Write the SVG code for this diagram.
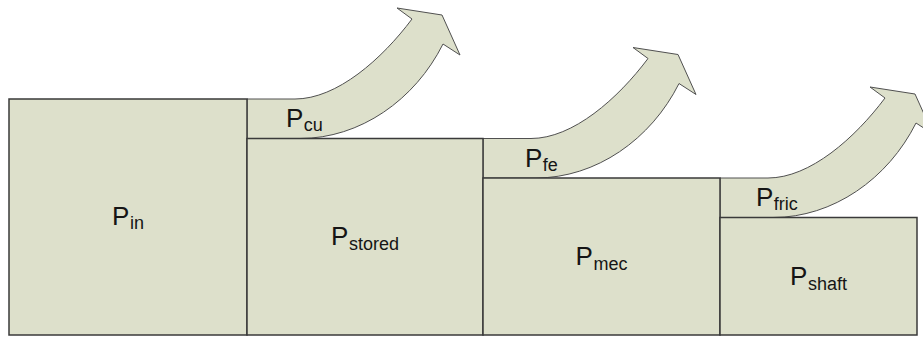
<svg xmlns="http://www.w3.org/2000/svg" xmlns:xlink="http://www.w3.org/1999/xlink" width="923" height="337" viewBox="0 0 923 337">
  <style>
    .box { fill: #DDE0CB; stroke: #3a3a3a; stroke-width: 1.5; }
    .loss { fill: #DDE0CB; stroke: #505050; stroke-width: 1; stroke-linejoin: miter; }
    .lbl { font-family: "Liberation Sans", Arial, sans-serif; font-size: 26px; fill: #151515; }
    .sub { font-size: 18px; }
  </style>
  <defs>
    <path id="lossArrow" class="loss" d="M0,0 L48,0 C90,0 135,-40 165,-80 L150,-91 L195,-84 L213,-44 L196,-55 C168,1 113,39.5 53,39.5 L0,39.5 Z"/>
  </defs>
  <rect width="923" height="337" fill="#ffffff"/>

  <g id="connectors">
    <g id="loss-cu">
      <use xlink:href="#lossArrow" href="#lossArrow" transform="translate(247,99)"/>
      <text class="lbl" x="286" y="127">P<tspan class="sub" dx="0.5" dy="4">cu</tspan></text>
    </g>
    <g id="loss-fe">
      <use xlink:href="#lossArrow" href="#lossArrow" transform="translate(483,138.5)"/>
      <text class="lbl" x="525" y="166.5">P<tspan class="sub" dx="0.5" dy="4">fe</tspan></text>
    </g>
    <g id="loss-fric">
      <use xlink:href="#lossArrow" href="#lossArrow" transform="translate(720,178)"/>
      <text class="lbl" x="756" y="205.5">P<tspan class="sub" dx="0.5" dy="4">fric</tspan></text>
    </g>
  </g>

  <g id="p-in">
    <rect class="box" x="9" y="99" width="238" height="236"/>
    <text class="lbl" x="128" y="225" text-anchor="middle">P<tspan class="sub" dx="0.5" dy="4">in</tspan></text>
  </g>
  <g id="p-stored">
    <rect class="box" x="247" y="138.5" width="236" height="196.5"/>
    <text class="lbl" x="365" y="245" text-anchor="middle">P<tspan class="sub" dx="0.5" dy="5">stored</tspan></text>
  </g>
  <g id="p-mec">
    <rect class="box" x="483" y="178" width="237" height="157"/>
    <text class="lbl" x="601.5" y="265" text-anchor="middle">P<tspan class="sub" dx="0.5" dy="5">mec</tspan></text>
  </g>
  <g id="p-shaft">
    <rect class="box" x="720" y="217.5" width="197" height="117.5"/>
    <text class="lbl" x="818.5" y="285" text-anchor="middle">P<tspan class="sub" dx="0.5" dy="5">shaft</tspan></text>
  </g>
</svg>
